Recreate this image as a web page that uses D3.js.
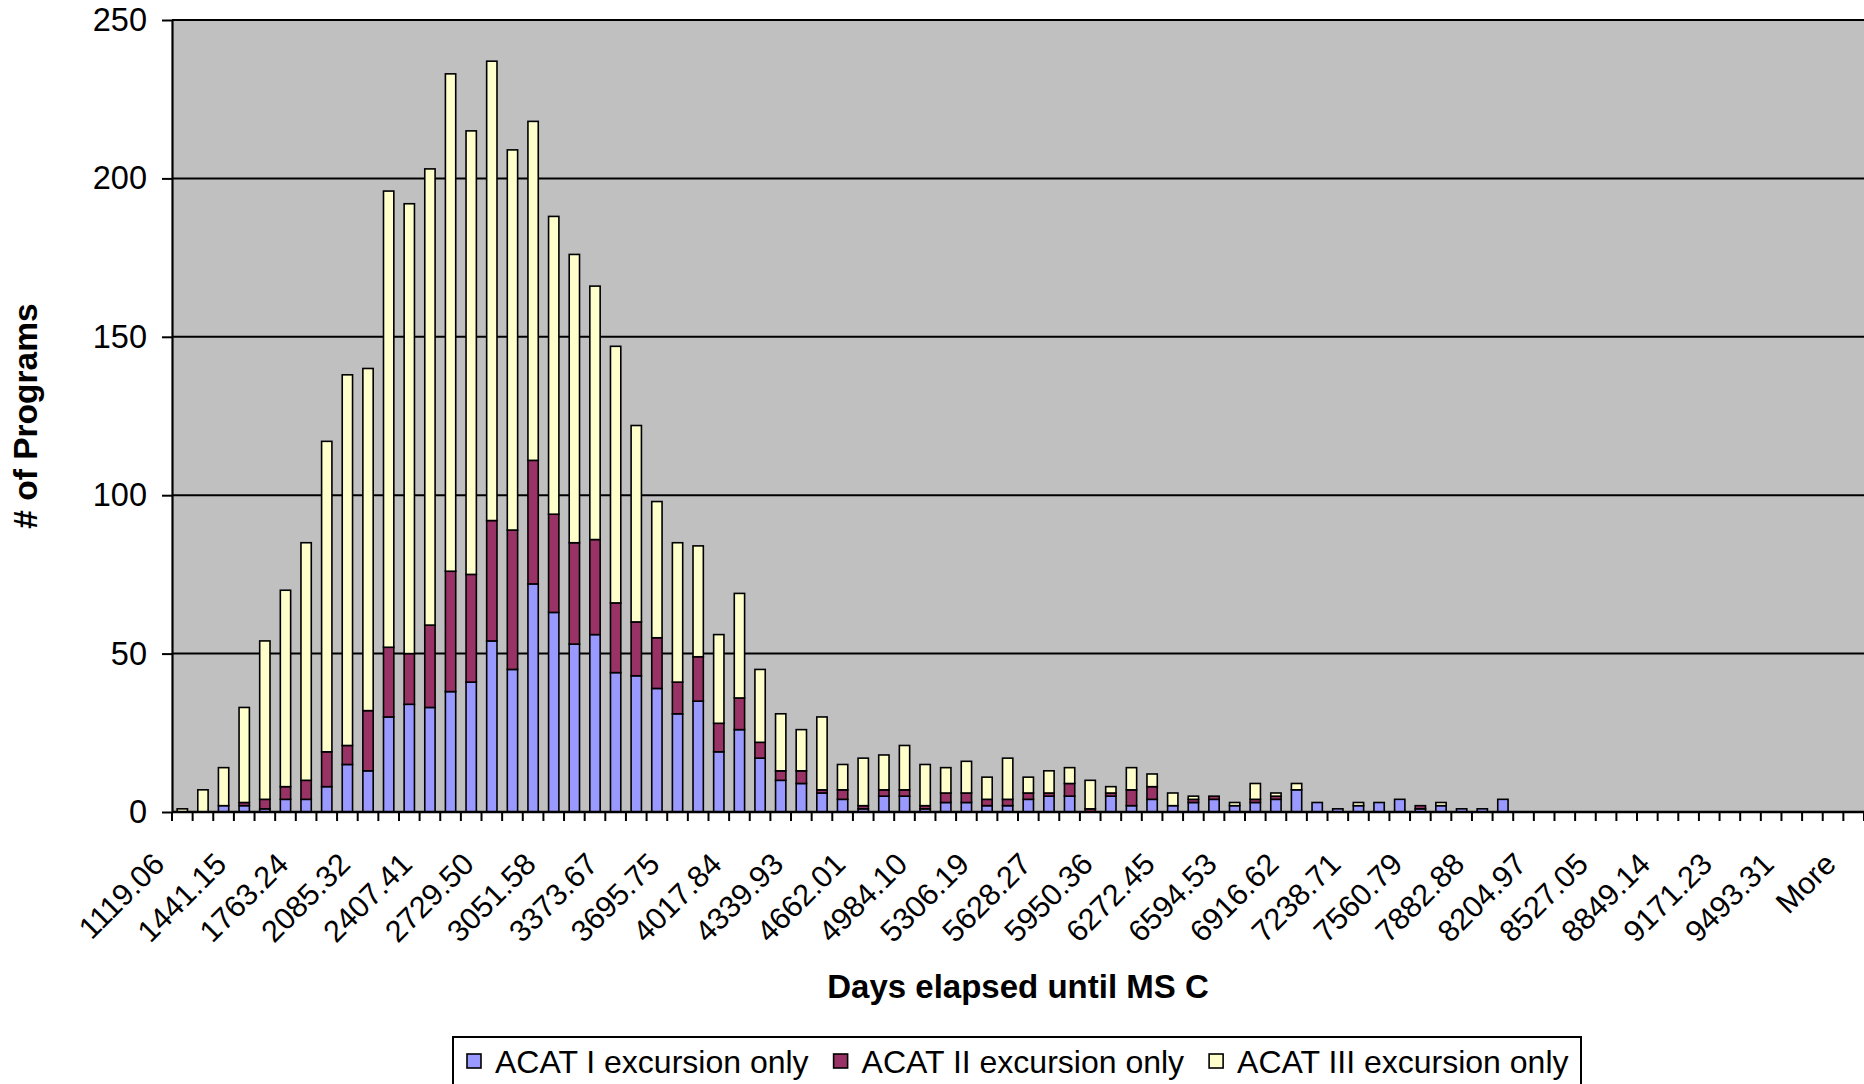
<!DOCTYPE html>
<html>
<head>
<meta charset="utf-8">
<script src="https://cdn.jsdelivr.net/npm/d3@7/dist/d3.min.js"></script>
<style>
  html, body { margin: 0; padding: 0; background: #ffffff; }
  svg { display: block; font-family: "Liberation Sans", Arial, sans-serif; }
</style>
</head>
<body>
<svg id="chart" width="1864" height="1084"></svg>
<script>
// Histogram bins (days elapsed until Milestone C); last bin is open-ended.
const categories = [
  "1119.06","1226.42","1333.79","1441.15","1548.51","1655.87","1763.24","1870.60","1977.96",
  "2085.32","2192.68","2300.05","2407.41","2514.77","2622.13","2729.50","2836.86","2944.22",
  "3051.58","3158.94","3266.31","3373.67","3481.03","3588.39","3695.75","3803.12","3910.48",
  "4017.84","4125.20","4232.57","4339.93","4447.29","4554.65","4662.01","4769.38","4876.74",
  "4984.10","5091.46","5198.83","5306.19","5413.55","5520.91","5628.27","5735.64","5843.00",
  "5950.36","6057.72","6165.08","6272.45","6379.81","6487.17","6594.53","6701.90","6809.26",
  "6916.62","7023.98","7131.34","7238.71","7346.07","7453.43","7560.79","7668.16","7775.52",
  "7882.88","7990.24","8097.60","8204.97","8312.33","8419.69","8527.05","8634.42","8741.78",
  "8849.14","8956.50","9063.86","9171.23","9278.59","9385.95","9493.31","9600.67","9708.04",
  "More"
];

// Only every third bin label is printed on the category axis.
const labelEvery = 3;

// Number of programs per bin, by ACAT level of the excursion.
const acat1 = [
  0, 0, 2, 2, 1, 4, 4, 8, 15, 13, 30, 34, 33, 38, 41, 54, 45, 72, 63, 53,
  56, 44, 43, 39, 31, 35, 19, 26, 17, 10, 9, 6, 4, 1, 5, 5, 1, 3, 3, 2,
  2, 4, 5, 5, 0, 5, 2, 4, 2, 3, 4, 2, 3, 4, 7, 3, 1, 2, 3, 4,
  1, 2, 1, 1, 4, 0, 0, 0, 0, 0, 0, 0, 0, 0, 0, 0, 0, 0, 0, 0,
  0, 0
];
const acat2 = [
  0, 0, 0, 1, 3, 4, 6, 11, 6, 19, 22, 16, 26, 38, 34, 38, 44, 39, 31, 32,
  30, 22, 17, 16, 10, 14, 9, 10, 5, 3, 4, 1, 3, 1, 2, 2, 1, 3, 3, 2,
  2, 2, 1, 4, 1, 1, 5, 4, 0, 1, 1, 0, 1, 1, 0, 0, 0, 0, 0, 0,
  1, 0, 0, 0, 0, 0, 0, 0, 0, 0, 0, 0, 0, 0, 0, 0, 0, 0, 0, 0,
  0, 0
];
const acat3 = [
  1, 7, 12, 30, 50, 62, 75, 98, 117, 108, 144, 142, 144, 157, 140, 145, 120, 107, 94, 91,
  80, 81, 62, 43, 44, 35, 28, 33, 23, 18, 13, 23, 8, 15, 11, 14, 13, 8, 10, 7,
  13, 5, 7, 5, 9, 2, 7, 4, 4, 1, 0, 1, 5, 1, 2, 0, 0, 1, 0, 0,
  0, 1, 0, 0, 0, 0, 0, 0, 0, 0, 0, 0, 0, 0, 0, 0, 0, 0, 0, 0,
  0, 0
];

const seriesNames = ["ACAT I excursion only", "ACAT II excursion only", "ACAT III excursion only"];
const seriesKeys = ["a1", "a2", "a3"];
const seriesColors = ["#9999FF", "#993366", "#FFFFCC"];
const yTicks = [0, 50, 100, 150, 200, 250];

const xTitle = "Days elapsed until MS C";
const yTitle = "# of Programs";

// ---- layout ----
const svg = d3.select("#chart");
const plot = { left: 172, right: 1864, top: 20, bottom: 812 };
const FONT = '"Liberation Sans", Arial, sans-serif';

const rows = categories.map((c, i) => ({ cat: c, a1: acat1[i], a2: acat2[i], a3: acat3[i] }));
const stacked = d3.stack().keys(seriesKeys)(rows);

const x = d3.scaleBand()
  .domain(categories)
  .range([plot.left, plot.right])
  .paddingInner(0.5)
  .paddingOuter(0.25);

const y = d3.scaleLinear().domain([0, 250]).range([plot.bottom, plot.top]);

// plot area background
svg.append("rect")
  .attr("x", plot.left).attr("y", plot.top)
  .attr("width", plot.right - plot.left).attr("height", plot.bottom - plot.top)
  .attr("fill", "#C0C0C0");

// horizontal gridlines
svg.append("g")
  .selectAll("line")
  .data(yTicks.filter(v => v > 0))
  .join("line")
  .attr("x1", plot.left).attr("x2", plot.right)
  .attr("y1", d => y(d)).attr("y2", d => y(d))
  .attr("stroke", "#000").attr("stroke-width", 2);

// stacked bars
const layers = svg.append("g")
  .selectAll("g")
  .data(stacked)
  .join("g")
  .attr("fill", (d, i) => seriesColors[i]);

layers.selectAll("rect")
  .data(d => d.filter(s => s[1] - s[0] > 0))
  .join("rect")
  .attr("x", d => x(d.data.cat))
  .attr("width", x.bandwidth())
  .attr("y", d => y(d[1]))
  .attr("height", d => y(d[0]) - y(d[1]))
  .attr("stroke", "#000")
  .attr("stroke-width", 1.6);

// y axis
const yAxis = svg.append("g").attr("transform", `translate(${plot.left},0)`)
  .call(d3.axisLeft(y).tickValues(yTicks).tickSize(10).tickSizeOuter(0).tickPadding(15));
yAxis.select(".domain").attr("stroke", "#000").attr("stroke-width", 2.2);
yAxis.selectAll(".tick line").attr("stroke", "#000").attr("stroke-width", 2);
yAxis.selectAll(".tick text")
  .attr("font-family", FONT).attr("font-size", 32.5).attr("fill", "#000");

// x axis: tick marks on bin boundaries, labels on every third bin
const step = x.step();
const boundaries = d3.range(categories.length + 1).map(i => plot.left + i * step);
const xAxis = svg.append("g");
xAxis.selectAll("line.tick")
  .data(boundaries)
  .join("line")
  .attr("class", "tick")
  .attr("x1", d => d).attr("x2", d => d)
  .attr("y1", plot.bottom).attr("y2", plot.bottom + 9)
  .attr("stroke", "#000").attr("stroke-width", 2);
xAxis.append("line")
  .attr("x1", plot.left).attr("x2", plot.right)
  .attr("y1", plot.bottom).attr("y2", plot.bottom)
  .attr("stroke", "#000").attr("stroke-width", 2.6);

xAxis.selectAll("text")
  .data(categories.filter((c, i) => i % labelEvery === 0))
  .join("text")
  .attr("transform", d => {
    const cx = x(d) + x.bandwidth() / 2;
    return `translate(${cx - 16},${plot.bottom + 54}) rotate(-45)`;
  })
  .attr("text-anchor", "end")
  .attr("font-family", FONT)
  .attr("font-size", 30.5)
  .attr("fill", "#000")
  .text(d => d);

// axis titles
svg.append("text")
  .attr("x", (plot.left + plot.right) / 2).attr("y", 998)
  .attr("text-anchor", "middle")
  .attr("font-family", FONT).attr("font-weight", "bold").attr("font-size", 33)
  .text(xTitle);

svg.append("text")
  .attr("transform", "translate(37,416) rotate(-90)")
  .attr("text-anchor", "middle")
  .attr("font-family", FONT).attr("font-weight", "bold").attr("font-size", 33.5)
  .text(yTitle);

// legend
const legend = svg.append("g");
legend.append("rect")
  .attr("x", 453).attr("y", 1037).attr("width", 1128).attr("height", 60)
  .attr("fill", "#fff").attr("stroke", "#000").attr("stroke-width", 2);

let lx = 467;
seriesNames.forEach((name, i) => {
  legend.append("rect")
    .attr("x", lx).attr("y", 1054).attr("width", 14).attr("height", 14)
    .attr("fill", seriesColors[i]).attr("stroke", "#000").attr("stroke-width", 1.6);
  const t = legend.append("text")
    .attr("x", lx + 28).attr("y", 1073)
    .attr("font-family", FONT).attr("font-size", 32).attr("fill", "#000")
    .text(name);
  lx = lx + 28 + t.node().getComputedTextLength() + 25;
});
</script>
</body>
</html>
